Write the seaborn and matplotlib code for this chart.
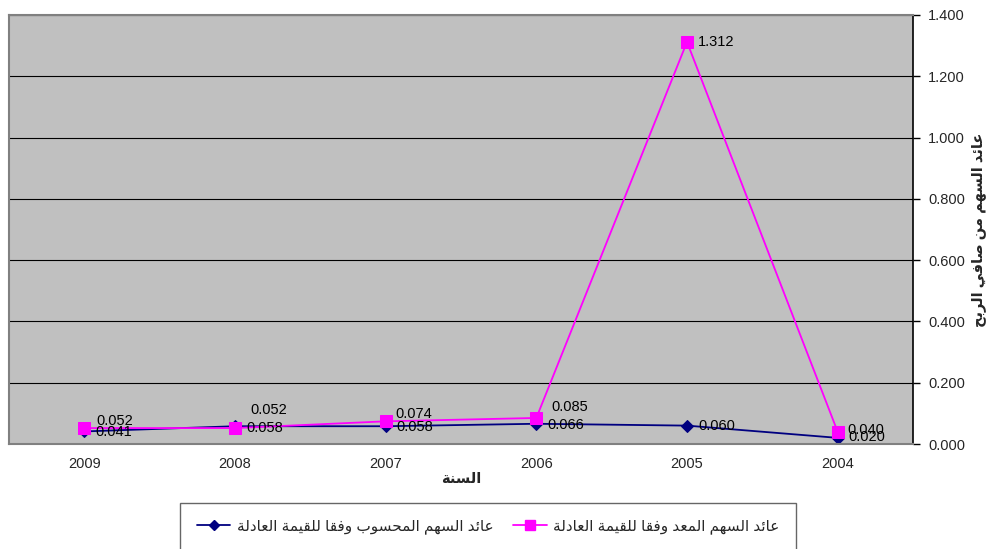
"""
Line chart: earnings per share computed vs prepared under fair value, 2009-2004.
"""
import matplotlib
matplotlib.use('Agg')
import matplotlib.pyplot as plt
from matplotlib.lines import Line2D
import seaborn as sns

# Data
years = ['2009', '2008', '2007', '2006', '2005', '2004']
computed_eps = [0.041, 0.058, 0.058, 0.066, 0.060, 0.020]
prepared_eps = [0.052, 0.052, 0.074, 0.085, 1.312, 0.040]
computed_name = 'عائد السهم المحسوب وفقا للقيمة العادلة'
prepared_name = 'عائد السهم المعد وفقا للقيمة العادلة'
x_title = 'السنة'
y_title = 'عائد السهم من صافي الربح'
y_ticks = [0.0, 0.2, 0.4, 0.6, 0.8, 1.0, 1.2, 1.4]

# Arabic presentation forms: letter -> (isolated code point, number of forms)
FORMS = {
    'ا': (0xFE8D, 2), 'ب': (0xFE8F, 4), 'ة': (0xFE93, 2), 'ح': (0xFEA1, 4),
    'د': (0xFEA9, 2), 'ر': (0xFEAD, 2), 'س': (0xFEB1, 4), 'ص': (0xFEB9, 4),
    'ع': (0xFEC9, 4), 'ف': (0xFED1, 4), 'ق': (0xFED5, 4), 'ل': (0xFEDD, 4),
    'م': (0xFEE1, 4), 'ن': (0xFEE5, 4), 'ه': (0xFEE9, 4), 'و': (0xFEED, 2),
    'ي': (0xFEF1, 4), 'ئ': (0xFE89, 4),
}


def shape(text):
    """Join Arabic letters and put them in visual (left-to-right) order."""
    out = []
    for i, ch in enumerate(text):
        if ch not in FORMS:
            out.append(ch)
            continue
        base, n = FORMS[ch]
        prev = text[i - 1] if i > 0 else ''
        nxt = text[i + 1] if i + 1 < len(text) else ''
        join_prev = prev in FORMS and FORMS[prev][1] == 4
        join_next = n == 4 and nxt in FORMS
        out.append(chr(base + (1 if join_prev else 0) + (2 if join_next else 0)))
    return ''.join(reversed(out))


sns.set_theme(style='white')
plt.rcParams['font.family'] = ['Liberation Sans', 'DejaVu Sans']

NAVY = '#000080'
MAGENTA = '#FF00FF'
FS = 10.5

fig = plt.figure(figsize=(9.94, 5.49), dpi=100)
ax = fig.add_axes([9 / 994, 1 - 444 / 549, 904 / 994, 429 / 549])
ax.set_facecolor('#C0C0C0')

sns.lineplot(x=years, y=computed_eps, ax=ax, color=NAVY, marker='D',
             markersize=6, markeredgecolor=NAVY, linewidth=1.3, sort=False)
sns.lineplot(x=years, y=prepared_eps, ax=ax, color=MAGENTA, marker='s',
             markersize=8, markeredgecolor=MAGENTA, linewidth=1.3, sort=False)

# data labels (pixel offsets tuned to the reference)
navy_dy = [-1, -2, -1, -1, 0, 1]
mag_dy = [7, 18, 7, 11, 0, 2]
mag_dx = [12, 15, 10, 15, 11, 10]
for i, (a, b) in enumerate(zip(computed_eps, prepared_eps)):
    ax.annotate(f'{a:.3f}', (i, a), xytext=(11, navy_dy[i]),
                textcoords='offset pixels', va='center', ha='left',
                fontsize=FS, color='black')
    ax.annotate(f'{b:.3f}', (i, b), xytext=(mag_dx[i], mag_dy[i]),
                textcoords='offset pixels', va='center', ha='left',
                fontsize=FS, color='black')

ax.set_xlim(-0.5, len(years) - 0.5)
ax.set_ylim(0, 1.4)
ax.set_yticks(y_ticks)
ax.set_yticklabels([f'{t:.3f}' for t in y_ticks], fontsize=FS)
ax.yaxis.tick_right()
ax.yaxis.set_label_position('right')
ax.tick_params(axis='y', length=5, width=1, color='black', direction='out',
               pad=6, right=True, left=False)
ax.tick_params(axis='x', length=0, pad=9, labelsize=FS)
ax.grid(axis='y', color='black', linewidth=0.8)
ax.set_axisbelow(True)

for side in ['left', 'top', 'bottom']:
    ax.spines[side].set_color('#808080')
    ax.spines[side].set_linewidth(1.5)
ax.spines['right'].set_color('black')
ax.spines['right'].set_linewidth(1.2)

ax.set_xlabel(shape(x_title), fontsize=FS, fontweight='bold', labelpad=1)
ax.set_ylabel(shape(y_title), fontsize=FS, fontweight='bold', rotation=90,
              va='center', ha='center')
ax.yaxis.set_label_coords(1.072, 0.5)

handles = [
    Line2D([], [], color=NAVY, marker='D', markersize=5, linewidth=1.3),
    Line2D([], [], color=MAGENTA, marker='s', markersize=7, linewidth=1.3),
]
leg = fig.legend(handles, [shape(computed_name), shape(prepared_name)],
                 loc='upper left', bbox_to_anchor=(180 / 994, 1 - 503 / 549),
                 ncol=2, fontsize=11, frameon=True, fancybox=False,
                 edgecolor='#404040', handlelength=2.2, handletextpad=0.4,
                 columnspacing=1.3, borderpad=1.1, borderaxespad=0)
leg.get_frame().set_linewidth(1.0)

fig.savefig('out.png', dpi=100)
plt.close(fig)
